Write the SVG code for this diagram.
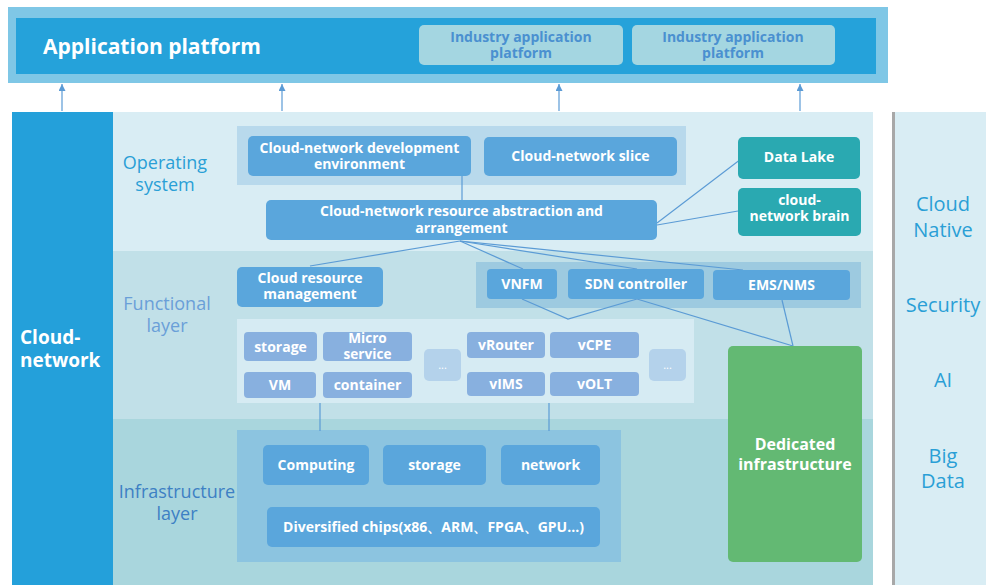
<svg xmlns="http://www.w3.org/2000/svg" width="986" height="585" viewBox="0 0 986 585">
  <defs>
    <marker id="arrow" viewBox="0 0 10 10" refX="10" refY="5" markerWidth="7" markerHeight="7" orient="auto" markerUnits="userSpaceOnUse">
      <path d="M0,0 L10,5 L0,10 Z" fill="#5b9bd5"/>
    </marker>
    <style>
      text { font-family: "Open Sans", "Noto Sans", "DejaVu Sans", sans-serif; text-anchor: middle; }
      .box { fill: #5aa6dc; }
      .lbox { fill: #88b0df; }
      .dots { fill: #b4d2eb; }
      .teal { fill: #2aa9b1; }
      .t { fill: #ffffff; font-weight: 700; font-size: 14px; }
      .t2 { fill: #ffffff; font-weight: 700; font-size: 13.6px; }
      .layer { font-size: 18px; }
      .side { fill: #2a9fd6; font-size: 20px; font-weight: 500; }
      .conn { stroke: #5b9bd5; stroke-width: 1.2; fill: none; }
    </style>
  </defs>

  <rect width="986" height="585" fill="#ffffff"/>

  <!-- application platform band -->
  <g id="app-platform">
    <rect x="8" y="7" width="880" height="76" fill="#7fc7e6"/>
    <rect x="16" y="18" width="860" height="56" fill="#25a2da"/>
    <text x="43" y="54" style="text-anchor:start;fill:#ffffff;font-weight:700;font-size:21px">Application platform</text>
  </g>
  <g id="industry-1">
    <rect x="419" y="25" width="204" height="40" rx="5" fill="#a4d6e1"/>
    <text x="521" y="42" style="fill:#4a90d0;font-weight:700;font-size:14px">Industry application</text>
    <text x="521" y="58" style="fill:#4a90d0;font-weight:700;font-size:14px">platform</text>
  </g>
  <g id="industry-2">
    <rect x="632" y="25" width="203" height="40" rx="5" fill="#a4d6e1"/>
    <text x="733" y="42" style="fill:#4a90d0;font-weight:700;font-size:14px">Industry application</text>
    <text x="733" y="58" style="fill:#4a90d0;font-weight:700;font-size:14px">platform</text>
  </g>

  <!-- layer bands -->
  <g id="layers">
    <rect x="113" y="112" width="760" height="139" fill="#d9edf4"/>
    <rect x="113" y="251" width="760" height="168" fill="#c1e0e8"/>
    <rect x="113" y="419" width="760" height="166" fill="#a9d6dd"/>
    <text x="165" y="169" class="layer" style="fill:#2a9fd6">Operating</text>
    <text x="165" y="191" class="layer" style="fill:#2a9fd6">system</text>
    <text x="167" y="310" class="layer" style="fill:#6a9fd8">Functional</text>
    <text x="167" y="332" class="layer" style="fill:#6a9fd8">layer</text>
    <text x="177" y="498" class="layer" style="fill:#3d80c4">Infrastructure</text>
    <text x="177" y="520" class="layer" style="fill:#3d80c4">layer</text>
  </g>

  <g id="cloud-network">
    <rect x="12" y="112" width="101" height="473" fill="#24a0da"/>
    <text x="20" y="344" style="text-anchor:start;fill:#ffffff;font-weight:700;font-size:19px">Cloud-</text>
    <text x="20" y="367" style="text-anchor:start;fill:#ffffff;font-weight:700;font-size:19px">network</text>
  </g>

  <g id="capabilities">
    <rect x="892" y="112" width="3" height="473" fill="#a8a8a8"/>
    <rect x="895" y="112" width="91" height="473" fill="#d9edf4"/>
    <text x="943" y="211" class="side">Cloud</text>
    <text x="943" y="237" class="side">Native</text>
    <text x="943" y="312" class="side">Security</text>
    <text x="943" y="387" class="side">AI</text>
    <text x="943" y="463" class="side">Big</text>
    <text x="943" y="488" class="side">Data</text>
  </g>

  <!-- group panels -->
  <g id="panels">
    <rect x="237" y="126" width="449" height="59" fill="#b8d9ec"/>
    <rect x="476" y="262" width="385" height="46" fill="#9dcae0"/>
    <rect x="237" y="319" width="457" height="84" fill="#d6ebf3"/>
    <rect x="237" y="430" width="384" height="132" fill="#8cc4e0"/>
  </g>

  <!-- connectors -->
  <g id="connectors">
    <line class="conn" x1="62" y1="111" x2="62" y2="84" marker-end="url(#arrow)"/>
    <line class="conn" x1="282" y1="111" x2="282" y2="84" marker-end="url(#arrow)"/>
    <line class="conn" x1="559" y1="111" x2="559" y2="84" marker-end="url(#arrow)"/>
    <line class="conn" x1="800" y1="111" x2="800" y2="84" marker-end="url(#arrow)"/>
    <line class="conn" x1="462" y1="176" x2="462" y2="200"/>
    <line class="conn" x1="657" y1="223" x2="741" y2="159"/>
    <line class="conn" x1="657" y1="225" x2="738" y2="211"/>
    <line class="conn" x1="460" y1="241" x2="310" y2="266"/>
    <line class="conn" x1="460" y1="241" x2="523" y2="269"/>
    <line class="conn" x1="460" y1="241" x2="637" y2="269"/>
    <line class="conn" x1="460" y1="241" x2="743" y2="270"/>
    <polyline class="conn" points="522,299 568,319 637,299"/>
    <line class="conn" x1="637" y1="299" x2="793" y2="346"/>
    <line class="conn" x1="782" y1="300" x2="793" y2="346"/>
    <line class="conn" x1="320" y1="403" x2="320" y2="431"/>
    <line class="conn" x1="549" y1="403" x2="549" y2="431"/>
  </g>

  <!-- operating system -->
  <g id="dev-env">
    <rect class="box" x="248" y="136" width="223" height="40" rx="5"/>
    <text class="t" x="359.5" y="153">Cloud-network development</text>
    <text class="t" x="359.5" y="169">environment</text>
  </g>
  <g id="slice">
    <rect class="box" x="484" y="137" width="193" height="39" rx="5"/>
    <text class="t" x="580.5" y="161">Cloud-network slice</text>
  </g>
  <g id="arrangement">
    <rect class="box" x="266" y="200" width="391" height="40" rx="5"/>
    <text class="t" x="461.5" y="216">Cloud-network resource abstraction and</text>
    <text class="t" x="461.5" y="233">arrangement</text>
  </g>
  <g id="data-lake">
    <rect class="teal" x="738" y="137" width="122" height="42" rx="5"/>
    <text class="t" x="799" y="162">Data Lake</text>
  </g>
  <g id="brain">
    <rect class="teal" x="738" y="188" width="123" height="48" rx="5"/>
    <text class="t" x="799.5" y="205">cloud-</text>
    <text class="t" x="799.5" y="221">network brain</text>
  </g>

  <!-- functional layer -->
  <g id="cloud-resource">
    <rect class="box" x="237" y="267" width="146" height="40" rx="5"/>
    <text class="t" x="310" y="283">Cloud resource</text>
    <text class="t" x="310" y="299">management</text>
  </g>
  <g id="vnfm">
    <rect class="box" x="487" y="269" width="70" height="30" rx="4"/>
    <text class="t" x="522" y="289">VNFM</text>
  </g>
  <g id="sdn">
    <rect class="box" x="568" y="269" width="136" height="30" rx="4"/>
    <text class="t" x="636" y="289">SDN controller</text>
  </g>
  <g id="ems">
    <rect class="box" x="713" y="270" width="137" height="30" rx="4"/>
    <text class="t" x="781.5" y="290">EMS/NMS</text>
  </g>

  <g id="storage-v">
    <rect class="lbox" x="244" y="332" width="73" height="29" rx="4"/>
    <text class="t" x="280.5" y="352">storage</text>
  </g>
  <g id="micro-service">
    <rect class="lbox" x="323" y="332" width="89" height="29" rx="4"/>
    <text class="t2" x="367.5" y="343">Micro</text>
    <text class="t2" x="367.5" y="359">service</text>
  </g>
  <g id="vm">
    <rect class="lbox" x="244" y="372" width="72" height="26" rx="4"/>
    <text class="t" x="280" y="390">VM</text>
  </g>
  <g id="container">
    <rect class="lbox" x="323" y="372" width="89" height="26" rx="4"/>
    <text class="t" x="367.5" y="390">container</text>
  </g>
  <g id="more-1">
    <rect class="dots" x="424" y="349" width="37" height="32" rx="5"/>
    <text x="442.5" y="369" style="fill:#ffffff;font-size:11px">...</text>
  </g>
  <g id="vrouter">
    <rect class="lbox" x="467" y="332" width="78" height="26" rx="4"/>
    <text class="t" x="506" y="350">vRouter</text>
  </g>
  <g id="vcpe">
    <rect class="lbox" x="550" y="332" width="89" height="26" rx="4"/>
    <text class="t" x="594.5" y="350">vCPE</text>
  </g>
  <g id="vims">
    <rect class="lbox" x="467" y="372" width="78" height="24" rx="4"/>
    <text class="t" x="506" y="389">vIMS</text>
  </g>
  <g id="volt">
    <rect class="lbox" x="550" y="372" width="89" height="24" rx="4"/>
    <text class="t" x="594.5" y="389">vOLT</text>
  </g>
  <g id="more-2">
    <rect class="dots" x="649" y="349" width="37" height="32" rx="5"/>
    <text x="667.5" y="369" style="fill:#ffffff;font-size:11px">...</text>
  </g>

  <!-- infrastructure layer -->
  <g id="computing">
    <rect class="box" x="263" y="445" width="106" height="40" rx="5"/>
    <text class="t" x="316" y="470">Computing</text>
  </g>
  <g id="storage-i">
    <rect class="box" x="383" y="445" width="103" height="40" rx="5"/>
    <text class="t" x="434.5" y="470">storage</text>
  </g>
  <g id="network">
    <rect class="box" x="501" y="445" width="99" height="40" rx="5"/>
    <text class="t" x="550.5" y="470">network</text>
  </g>
  <g id="chips">
    <rect class="box" x="267" y="507" width="333" height="40" rx="5"/>
    <text class="t" x="433.5" y="532">Diversified chips(x86、ARM、FPGA、GPU...)</text>
  </g>

  <g id="dedicated">
    <rect x="728" y="346" width="134" height="216" rx="5" fill="#63b973"/>
    <text x="795" y="450" style="fill:#ffffff;font-weight:700;font-size:16px">Dedicated</text>
    <text x="795" y="470" style="fill:#ffffff;font-weight:700;font-size:16px">infrastructure</text>
  </g>
</svg>
